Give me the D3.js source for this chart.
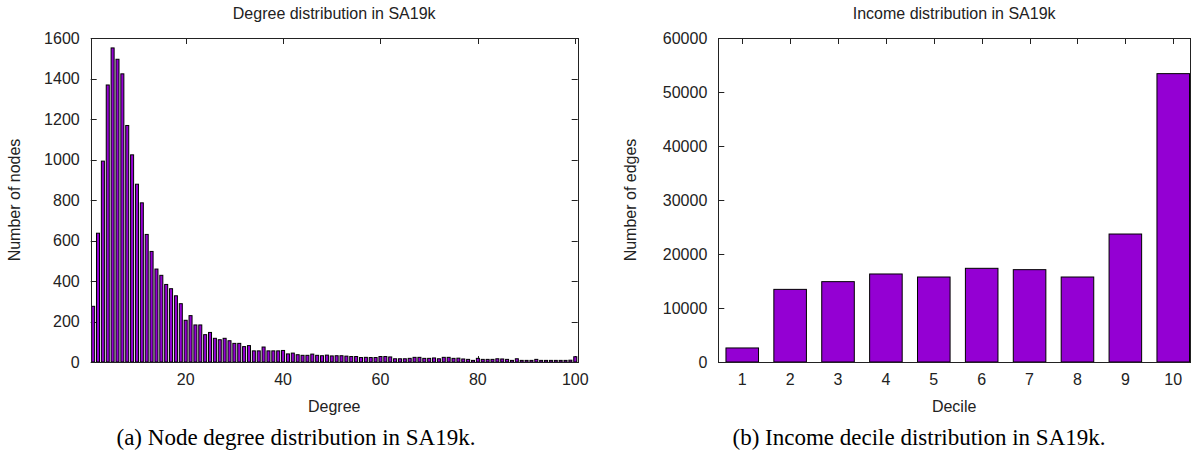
<!DOCTYPE html>
<html>
<head>
<meta charset="utf-8">
<script src="https://cdn.jsdelivr.net/npm/d3@7"></script>
<style>
  html, body { margin: 0; padding: 0; background: #fff; }
  svg { display: block; }
  .lbl { font-family: "Liberation Sans", Arial, sans-serif; font-size: 16px; fill: #222; }
  .cap { font-family: "Liberation Serif", "Times New Roman", serif; font-size: 23px; fill: #000; }
</style>
</head>
<body>
<svg id="fig" width="1196" height="455"></svg>
<script>
// Node degree distribution (degree 1..100)
const degrees = d3.range(1, 101);
const nodeCounts = [
  275, 636, 992, 1368, 1551, 1495, 1423, 1168, 1023, 878,
  786, 630, 546, 459, 428, 383, 362, 327, 288, 206,
  229, 183, 183, 135, 146, 117, 110, 117, 105, 92,
  92, 76, 81, 55, 55, 74, 55, 55, 55, 57,
  40, 44, 36, 33, 33, 39, 33, 31, 34, 30,
  31, 31, 29, 27, 27, 22, 23, 22, 22, 27,
  27, 25, 16, 16, 16, 18, 23, 23, 18, 18,
  20, 16, 23, 23, 18, 19, 15, 13, 8, 18,
  13, 13, 13, 16, 15, 13, 8, 16, 8, 8,
  8, 13, 8, 8, 8, 8, 8, 8, 9, 26
];
const degreeTicks = [20, 40, 60, 80, 100];
const nodeTicks = [0, 200, 400, 600, 800, 1000, 1200, 1400, 1600];

// Income decile distribution
const deciles = [1, 2, 3, 4, 5, 6, 7, 8, 9, 10];
const edgeCounts = [2600, 13450, 14880, 16300, 15740, 17350, 17100, 15740, 23700, 53400];
const edgeTicks = [0, 10000, 20000, 30000, 40000, 50000, 60000];

const BAR_FILL = "#9400d3";
const svg = d3.select("#fig");
svg.append("rect").attr("width", 1196).attr("height", 455).attr("fill", "#fff");

function panel(opts) {
  const { left, right, top, bottom, xDomain, yMax, xs, ys, xTicks, yTicks,
          boxWidth, title, xTitle, yTitle, yTitleX, caption, captionX } = opts;
  const g = svg.append("g");
  const x = d3.scaleLinear().domain(xDomain).range([left, right]);
  const y = d3.scaleLinear().domain([0, yMax]).range([bottom, top]);
  const tickLen = 6;

  // inward ticks on all four sides (drawn beneath the bars)
  const axisG = g.append("g").attr("stroke", "#222").attr("stroke-width", 1);
  yTicks.forEach(t => {
    const yy = Math.round(y(t)) + 0.5;
    axisG.append("line").attr("x1", left).attr("x2", left + tickLen).attr("y1", yy).attr("y2", yy);
    axisG.append("line").attr("x1", right - tickLen).attr("x2", right).attr("y1", yy).attr("y2", yy);
  });
  xTicks.forEach(t => {
    const xx = Math.round(x(t)) + 0.5;
    axisG.append("line").attr("x1", xx).attr("x2", xx).attr("y1", bottom).attr("y2", bottom - tickLen);
    axisG.append("line").attr("x1", xx).attr("x2", xx).attr("y1", top).attr("y2", top + tickLen);
  });

  // bars
  const bw = boxWidth * (x(2) - x(1));
  g.append("g").selectAll("rect").data(xs.map((d, i) => ({ k: d, v: ys[i] })))
    .join("rect")
    .attr("x", d => x(d.k) - bw / 2)
    .attr("y", d => y(d.v))
    .attr("width", bw)
    .attr("height", d => y(0) - y(d.v))
    .attr("fill", BAR_FILL)
    .attr("stroke", "#000")
    .attr("stroke-width", 1);

  // frame
  g.append("rect")
    .attr("x", Math.round(left) + 0.5).attr("y", Math.round(top) + 0.5)
    .attr("width", Math.round(right) - Math.round(left))
    .attr("height", Math.round(bottom) - Math.round(top))
    .attr("fill", "none").attr("stroke", "#222").attr("stroke-width", 1);

  // tick labels
  g.append("g").selectAll("text").data(yTicks).join("text")
    .attr("class", "lbl")
    .attr("x", left - 11).attr("y", d => y(d)).attr("dy", "0.36em")
    .attr("text-anchor", "end")
    .text(d => d);
  g.append("g").selectAll("text").data(xTicks).join("text")
    .attr("class", "lbl")
    .attr("x", d => x(d)).attr("y", bottom + 23)
    .attr("text-anchor", "middle")
    .text(d => d);

  // titles
  const cx = (left + right) / 2;
  g.append("text").attr("class", "lbl").attr("x", cx).attr("y", 19)
    .attr("text-anchor", "middle").text(title);
  g.append("text").attr("class", "lbl").attr("x", cx).attr("y", bottom + 50)
    .attr("text-anchor", "middle").text(xTitle);
  g.append("text").attr("class", "lbl")
    .attr("transform", `translate(${yTitleX},${(top + bottom) / 2}) rotate(-90)`)
    .attr("text-anchor", "middle").text(yTitle);

  // caption below the panel
  svg.append("text").attr("class", "cap").attr("x", captionX).attr("y", 445)
    .attr("text-anchor", "middle").text(caption);
}

panel({
  left: 90.7, right: 577.7, top: 38, bottom: 362,
  xDomain: [0.5, 100.5], yMax: 1600,
  xs: degrees, ys: nodeCounts,
  xTicks: degreeTicks, yTicks: nodeTicks,
  boxWidth: 0.62,
  title: "Degree distribution in SA19k",
  xTitle: "Degree", yTitle: "Number of nodes", yTitleX: 20,
  caption: "(a) Node degree distribution in SA19k.", captionX: 296
});

panel({
  left: 718.3, right: 1190, top: 38, bottom: 362,
  xDomain: [0.5, 10.35], yMax: 60000,
  xs: deciles, ys: edgeCounts,
  xTicks: deciles, yTicks: edgeTicks,
  boxWidth: 0.68,
  title: "Income distribution in SA19k",
  xTitle: "Decile", yTitle: "Number of edges", yTitleX: 636,
  caption: "(b) Income decile distribution in SA19k.", captionX: 919
});
</script>
</body>
</html>
